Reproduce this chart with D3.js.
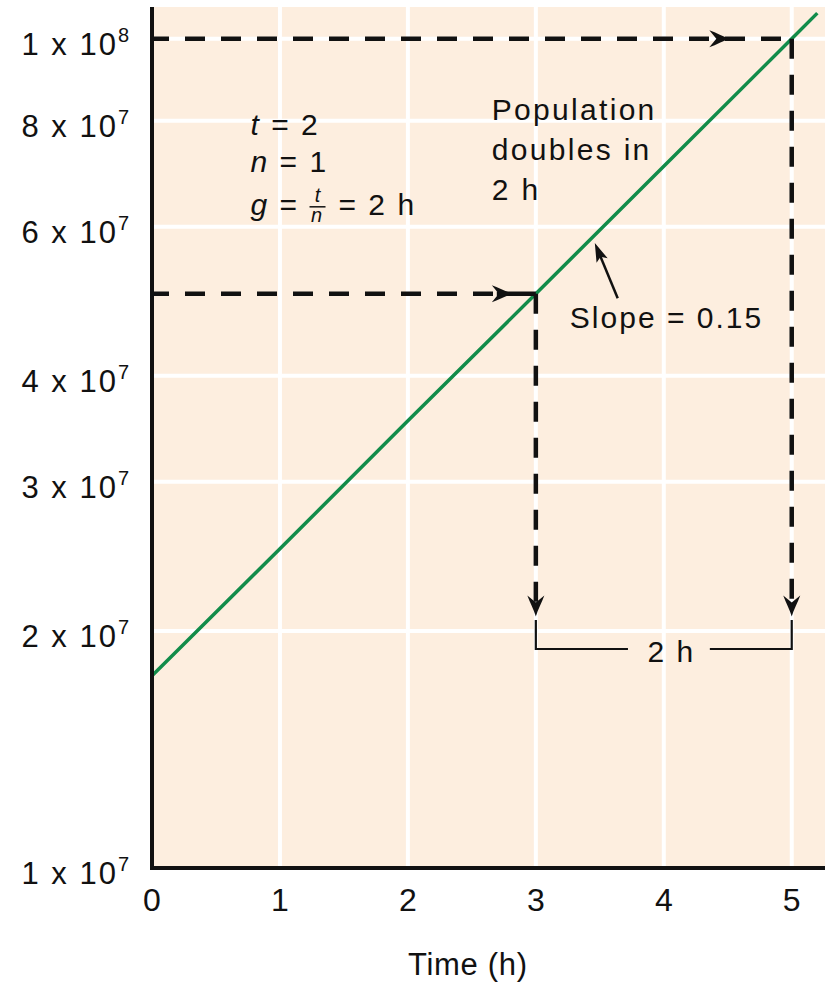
<!DOCTYPE html>
<html><head><meta charset="utf-8">
<script src="https://cdn.jsdelivr.net/npm/d3@7"></script>
<style>
body{margin:0;background:#fff}
text{font-family:"Liberation Sans",Arial,Helvetica,sans-serif;fill:#111}
</style>
</head><body><svg id="c" width="825" height="986"></svg>
<script>
// ---------- data ----------
const timeTicks = [0, 1, 2, 3, 4, 5];
const gridTimes = [1, 2, 3, 4, 5];
const yTickValues = [1e7, 2e7, 3e7, 4e7, 6e7, 8e7, 1e8];
const yTickMantissa = ["1", "2", "3", "4", "6", "8", "1"];
const yTickExponent = ["7", "7", "7", "7", "7", "7", "8"];
const gridValues = [2e7, 3e7, 4e7, 6e7, 8e7, 1e8];
const lineTimes = [0, 1, 2, 3, 4, 5, 5.2];
const lineCells = [1.77e7, 2.5e7, 3.54e7, 5e7, 7.07e7, 1e8, 1.072e8];
const doubling = [{t: 3, n: 5e7, arrowAt: 2.82, solidTail: true}, {t: 5, n: 1e8, arrowAt: 4.52, solidTail: false}];
const xDomain = [0, 5.26];
const yDomain = [1.05e7, 1.09e8];

// ---------- setup ----------
const svg = d3.select("#c");
const x = d3.scaleLinear().domain(xDomain).range([152, 825]);
const y = d3.scaleLog().domain(yDomain).range([868, 7]).clamp(true);

// plot background
svg.append("rect")
  .attr("x", x(xDomain[0])).attr("y", y(yDomain[1]))
  .attr("width", x(xDomain[1]) - x(xDomain[0]))
  .attr("height", y(yDomain[0]) - y(yDomain[1]))
  .attr("fill", "#fdeedf");

// gridlines
svg.append("g").selectAll("line").data(gridTimes).join("line")
  .attr("x1", d => x(d)).attr("x2", d => x(d))
  .attr("y1", y(yDomain[1])).attr("y2", y(yDomain[0]))
  .attr("stroke", "#fff").attr("stroke-width", 4);
svg.append("g").selectAll("line").data(gridValues).join("line")
  .attr("x1", x(xDomain[0])).attr("x2", x(xDomain[1]))
  .attr("y1", d => y(d)).attr("y2", d => y(d))
  .attr("stroke", "#fff").attr("stroke-width", 4);

// growth line
const pts = lineTimes.map((t, i) => [t, lineCells[i]]);
svg.append("path").datum(pts)
  .attr("d", d3.line().x(d => x(d[0])).y(d => y(d[1])))
  .attr("fill", "none").attr("stroke", "#128c4a").attr("stroke-width", 3.5);

// arrowhead shape (points right, tip at origin)
const barb = "M0,0 C-7,-2 -14,-6 -21,-8.5 L-14,0 L-21,8.5 C-14,6 -7,2 0,0 Z";

// dashed doubling guides
const tipLevel = 2.08e7, bracketTop = 2.06e7, bracketLevel = 1.904e7;
const dashG = svg.append("g");
doubling.forEach(d => {
  const xEnd = d.solidTail ? x(d.arrowAt) - 14 : x(d.t);
  dashG.append("line")
    .attr("x1", x(0)).attr("x2", xEnd).attr("y1", y(d.n)).attr("y2", y(d.n))
    .attr("stroke", "#111").attr("stroke-width", 4.5)
    .attr("stroke-dasharray", "20,16").attr("stroke-dashoffset", 3);
  if (d.solidTail) {
    dashG.append("line")
      .attr("x1", x(d.arrowAt) - 16).attr("x2", x(d.t)).attr("y1", y(d.n)).attr("y2", y(d.n))
      .attr("stroke", "#111").attr("stroke-width", 4.5);
  }
  dashG.append("path").attr("d", barb)
    .attr("transform", `translate(${x(d.arrowAt)},${y(d.n)})`).attr("fill", "#111");
  dashG.append("line")
    .attr("x1", x(d.t)).attr("x2", x(d.t)).attr("y1", y(d.n)).attr("y2", y(tipLevel) - 12)
    .attr("stroke", "#111").attr("stroke-width", 4.5)
    .attr("stroke-dasharray", "20,16").attr("stroke-dashoffset", 0);
  dashG.append("path").attr("d", barb)
    .attr("transform", `translate(${x(d.t)},${y(tipLevel)}) rotate(90)`).attr("fill", "#111");
});

// bracket
const gapStart = 3.72, gapEnd = 4.36, bracketLabelAt = 4.06;
const bracket = svg.append("g").attr("fill", "none").attr("stroke", "#111").attr("stroke-width", 2.2);
bracket.append("path").attr("d", d3.line()([
  [x(3), y(bracketTop)], [x(3), y(bracketLevel)], [x(gapStart), y(bracketLevel)]]));
bracket.append("path").attr("d", d3.line()([
  [x(gapEnd), y(bracketLevel)], [x(5), y(bracketLevel)], [x(5), y(bracketTop)]]));
svg.append("text").attr("x", x(bracketLabelAt)).attr("y", y(bracketLevel) + 13)
  .attr("text-anchor", "middle").attr("font-size", 30).attr("letter-spacing", 2)
  .text("2 h");

// axes
svg.append("line").attr("x1", x(0)).attr("x2", x(0))
  .attr("y1", y(yDomain[1])).attr("y2", y(yDomain[0]) + 2)
  .attr("stroke", "#111").attr("stroke-width", 4);
svg.append("line").attr("x1", x(0) - 2).attr("x2", x(xDomain[1]))
  .attr("y1", y(yDomain[0])).attr("y2", y(yDomain[0]))
  .attr("stroke", "#111").attr("stroke-width", 4);

// x tick labels
svg.append("g").selectAll("text").data(timeTicks).join("text")
  .attr("x", d => x(d)).attr("y", y(yDomain[0]) + 43)
  .attr("text-anchor", "middle").attr("font-size", 32)
  .text(d => d);

// y tick labels
const yl = svg.append("g").selectAll("text").data(yTickValues).join("text")
  .attr("x", 129).attr("y", d => y(d) + 16)
  .attr("text-anchor", "end").attr("font-size", 31).attr("letter-spacing", 2);
yl.append("tspan").text((d, i) => yTickMantissa[i] + " x 10");
yl.append("tspan").attr("dy", -13).attr("font-size", 20).attr("letter-spacing", 0)
  .text((d, i) => yTickExponent[i]);

// x axis title
svg.append("text").attr("x", x(2.5) - 4).attr("y", 975)
  .attr("text-anchor", "middle").attr("font-size", 31).attr("letter-spacing", 0.7)
  .text("Time (h)");

// formula annotation
const fx = x(0.77), fy = y(8e7);
const f = svg.append("g").attr("font-size", 30);
const l1 = f.append("text").attr("x", fx).attr("y", fy + 14).attr("letter-spacing", 2);
l1.append("tspan").attr("font-style", "italic").text("t");
l1.append("tspan").text(" = 2");
const l2 = f.append("text").attr("x", fx).attr("y", fy + 51).attr("letter-spacing", 2);
l2.append("tspan").attr("font-style", "italic").text("n");
l2.append("tspan").text(" = 1");
const l3 = f.append("text").attr("x", fx).attr("y", fy + 94).attr("letter-spacing", 2);
l3.append("tspan").attr("font-style", "italic").text("g");
l3.append("tspan").text(" =");
f.append("text").attr("x", fx + 67).attr("y", fy + 81).attr("text-anchor", "middle")
  .attr("font-size", 20).attr("font-style", "italic").text("t");
f.append("line").attr("x1", fx + 59).attr("x2", fx + 75).attr("y1", fy + 86).attr("y2", fy + 86)
  .attr("stroke", "#111").attr("stroke-width", 1.5);
f.append("text").attr("x", fx + 66).attr("y", fy + 101).attr("text-anchor", "middle")
  .attr("font-size", 20).attr("font-style", "italic").text("n");
f.append("text").attr("x", fx + 88).attr("y", fy + 94).attr("letter-spacing", 2).text("= 2 h");

// population annotation
const px = x(2.656), py = y(8e7);
svg.append("g").attr("font-size", 30).attr("letter-spacing", 2.3)
  .selectAll("text").data(["Population", "doubles in", "2 h"]).join("text")
  .attr("x", px).attr("y", (d, i) => py - 1 + i * 40).text(d => d);

// slope annotation
svg.append("text").attr("x", x(3.266)).attr("y", y(5e7) + 34)
  .attr("font-size", 30).attr("letter-spacing", 2).text("Slope = 0.15");
const tip = [x(3.461), y(5.74e7)], tail = [x(3.64), y(4.94e7)];
const ang = Math.atan2(tip[1] - tail[1], tip[0] - tail[0]);
svg.append("line").attr("x1", tail[0]).attr("y1", tail[1])
  .attr("x2", tip[0] - 10 * Math.cos(ang))
  .attr("y2", tip[1] - 10 * Math.sin(ang))
  .attr("stroke", "#111").attr("stroke-width", 2.5);
svg.append("path").attr("d", "M0,0 L-19,-6 L-15,0 L-19,6 Z")
  .attr("transform", `translate(${tip[0]},${tip[1]}) rotate(${ang * 180 / Math.PI})`).attr("fill", "#111");
</script></body></html>
